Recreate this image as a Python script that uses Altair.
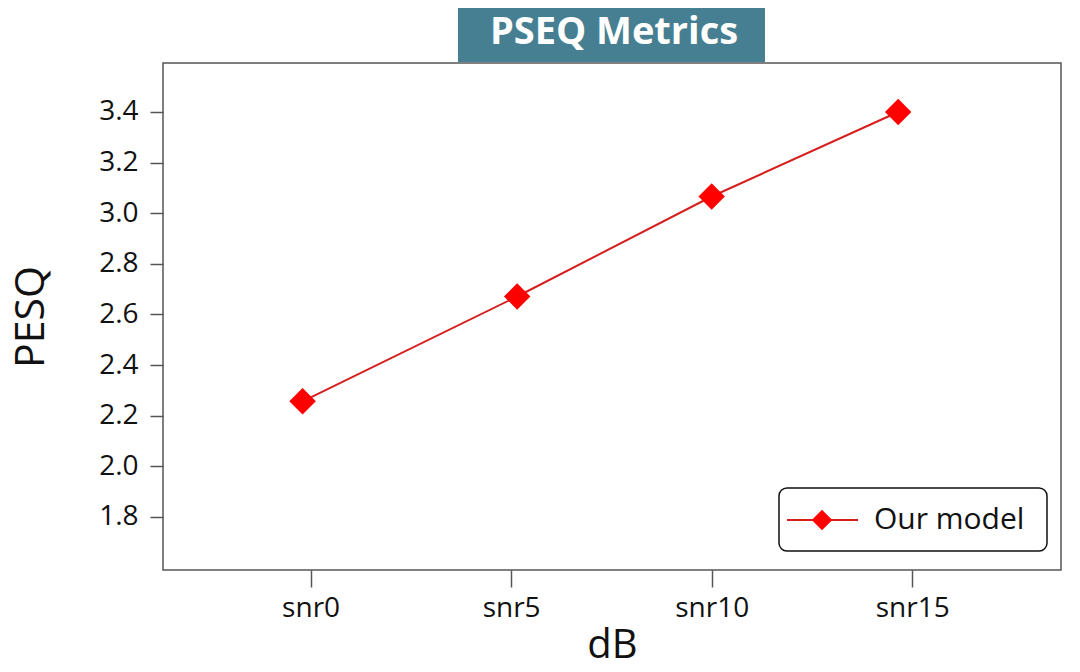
import altair as alt
import pandas as pd

# ---- data ----
categories = ["snr0", "snr5", "snr10", "snr15"]
tick_values = [0, 5, 10, 15]
x_positions = [-0.2, 5.15, 10.0, 14.65]
pesq_values = [2.257, 2.671, 3.066, 3.40]
y_ticks = [1.8, 2.0, 2.2, 2.4, 2.6, 2.8, 3.0, 3.2, 3.4]
series_name = "Our model"
chart_title = "PSEQ Metrics"
x_title = "dB"
y_title = "PESQ"

FONT = "Open Sans"
W, H = 898, 507

df = pd.DataFrame({"cat": categories, "x": x_positions, "y": pesq_values})

label_expr = "[" + ",".join("'%s'" % c for c in categories) + "][indexof([" + \
    ",".join(str(v) for v in tick_values) + "], datum.value)]"

x_enc = alt.X(
    "x:Q",
    scale=alt.Scale(domain=[-3.68, 18.71], nice=False, zero=False),
    axis=alt.Axis(
        values=tick_values, labelExpr=label_expr, title=x_title,
        grid=False, domain=False, tickSize=17, tickColor="#555555", tickWidth=1.5,
        labelFontSize=28, labelFont=FONT, labelColor="#111111", labelPadding=7,
        titleFontSize=40, titleFont=FONT, titleFontWeight="normal", titleColor="#111111",
        titleY=75, titleBaseline="middle",
    ),
)
y_enc = alt.Y(
    "y:Q",
    scale=alt.Scale(domain=[1.5905, 3.5935], nice=False, zero=False),
    axis=alt.Axis(
        values=y_ticks, format=".1f", title=y_title,
        grid=False, domain=False, tickSize=13, tickColor="#555555", tickWidth=1.5,
        labelFontSize=28, labelFont=FONT, labelColor="#111111", labelPadding=12,
        titleFontSize=41, titleFont=FONT, titleFontWeight="normal", titleColor="#111111",
        titleX=-132, titleY=H / 2, titleAngle=270, titleBaseline="middle", titleAlign="center",
    ),
)

base = alt.Chart(df)
line = base.mark_line(color="#d61e1e", strokeWidth=2).encode(x=x_enc, y=y_enc)
points = base.mark_point(shape="diamond", filled=True, size=700, color="#ff0000", opacity=1).encode(
    x="x:Q", y="y:Q"
)

tdf = pd.DataFrame({"t": [chart_title]})
title_box = alt.Chart(tdf).mark_rect(color="#467f91").encode(
    x=alt.value(295), x2=alt.value(602), y=alt.value(-63), y2=alt.value(-1)
)
title_text = alt.Chart(tdf).mark_text(
    color="white", fontSize=38, fontWeight="bold", font=FONT, baseline="middle", align="center"
).encode(x=alt.value(451), y=alt.value(-30), text="t:N")

ldf = pd.DataFrame({"name": [series_name]})
leg_box = alt.Chart(ldf).mark_rect(
    fill="white", stroke="#111111", strokeWidth=1.5, cornerRadius=8
).encode(x=alt.value(616), x2=alt.value(884), y=alt.value(425), y2=alt.value(488))
leg_line = alt.Chart(ldf).mark_rule(color="#d61e1e", strokeWidth=2).encode(
    x=alt.value(624), x2=alt.value(695), y=alt.value(457)
)
leg_pt = alt.Chart(ldf).mark_point(shape="diamond", filled=True, size=420, color="#ff0000", opacity=1).encode(
    x=alt.value(659), y=alt.value(457)
)
leg_text = alt.Chart(ldf).mark_text(
    fontSize=30, font=FONT, color="#111111", align="left", baseline="middle"
).encode(x=alt.value(711), y=alt.value(457), text="name:N")

chart = alt.layer(
    line, points, title_box, title_text, leg_box, leg_line, leg_pt, leg_text
).properties(
    width=W, height=H,
    autosize=alt.AutoSizeParams(type="none"),
    padding={"left": 155, "top": 55, "right": 8, "bottom": 94},
    background="white",
).configure_view(
    stroke="#555555", strokeWidth=1.5
)

chart.save("out.html", embed_options={"renderer": "svg", "actions": False})
